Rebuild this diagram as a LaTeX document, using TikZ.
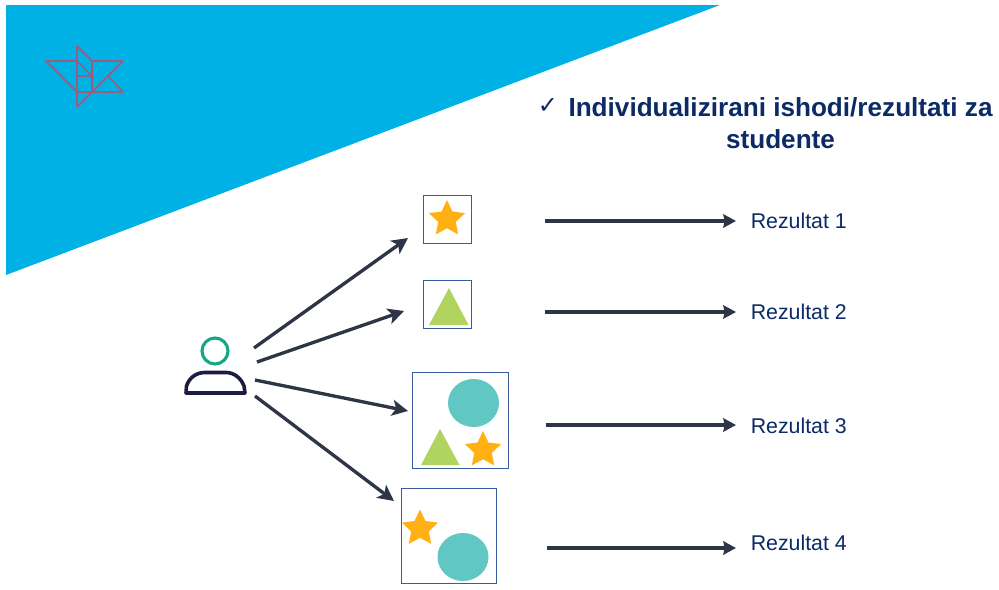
\documentclass[tikz,border=0pt]{standalone}
\usepackage{fontspec}
\setmainfont{Liberation Sans}
\newfontfamily\symfont{DejaVu Sans}
\usetikzlibrary{arrows.meta,shapes.geometric}
\definecolor{skyb}{HTML}{00B1E6}
\definecolor{logoc}{HTML}{9C5C7E}
\definecolor{navyt}{HTML}{0B2A66}
\definecolor{arrowc}{HTML}{2E3547}
\definecolor{boxc}{HTML}{3A5B9F}
\definecolor{starc}{HTML}{FFB114}
\definecolor{tric}{HTML}{B0D45F}
\definecolor{circc}{HTML}{60C7C3}
\definecolor{headc}{HTML}{12A886}
\definecolor{bodyc}{HTML}{1A1C40}
\tikzset{
  x=0.75pt,y=-0.75pt,
  logoline/.style={draw=logoc,line width=1.2pt,line join=round},
  boxnode/.style={draw=boxc,line width=0.85pt,fill=white,inner sep=0pt,minimum width=#1*0.75pt,minimum height=#1*0.75pt,rectangle},
  starnode/.style={star,star points=5,star point ratio=2.05,fill=starc,draw=none,inner sep=0pt,minimum size=38*0.75pt},
  trishape/.style={fill=tric,draw=none},
  circshape/.style={ellipse,fill=circc,draw=none,inner sep=0pt,minimum width=51*0.75pt,minimum height=48*0.75pt},
  flow/.style={draw=arrowc,line width=2.5pt,-{Stealth[length=12pt,width=12pt,inset=3pt]}},
  result/.style={draw=arrowc,line width=2.4pt,-{Stealth[length=9.5pt,width=10pt,inset=1pt]}},
  reslabel/.style={anchor=west,inner sep=0pt,text=navyt,font=\fontsize{16}{19}\selectfont},
  titlelabel/.style={inner sep=0pt,text=navyt,font=\bfseries\fontsize{19.6}{27}\selectfont,align=center},
}
\begin{document}
\begin{tikzpicture}
\useasboundingbox (0,0) rectangle (999,589);
\fill[white] (0,0) rectangle (999,589);
\fill[skyb] (6,5) -- (720,5) -- (6,275) -- cycle;
% logo
\draw[logoline] (46,61) -- (77,61) (46,61) -- (77,92) (77,46) -- (77,107)
  (77,46) -- (92,61) (92,61) -- (92,92) (92,61) -- (123,61) (123,61) -- (77,107)
  (108,76) -- (123,92) (77,92) -- (123,92) (77,76) -- (92,76) (77,61) -- (92,76);
% title
\node[inner sep=0pt,text=navyt,font=\symfont\bfseries\fontsize{18}{20}\selectfont] (check) at (548,105.5) {✓};
\node[titlelabel,anchor=center] (title1) at (780.5,107) {Individualizirani ishodi/rezultati za};
\node[titlelabel,anchor=center] (title2) at (780.5,139) {studente};
% person
\node[circle,draw=headc,line width=2.3pt,inner sep=0pt,minimum size=26*0.75pt] (head) at (215,351) {};
\draw[bodyc,line width=2.7pt,line join=round] (186,393) -- (245,393) -- (244,386)
  .. controls (241,378) and (234,372.5) .. (226,372.5) -- (205,372.5)
  .. controls (196,372.5) and (189,378) .. (186.5,386) -- cycle;
% boxes
\node[boxnode=48] (box1) at (447.3,219.5) {};
\node[boxnode=48] (box2) at (447.3,304.5) {};
\node[boxnode=96] (box3) at (460.3,420.5) {};
\node[boxnode=95] (box4) at (448.8,536) {};
% shapes
\node[starnode] (star1) at (447,219) {};
\fill[trishape] (449,288) -- (468.5,325) -- (429,325) -- cycle;
\node[circshape] (circ3) at (473.5,403) {};
\fill[trishape] (440,429) -- (459.5,465) -- (421,465) -- cycle;
\node[starnode] (star3) at (483,450) {};
\node[starnode] (star4) at (420,528.5) {};
\node[circshape] (circ4) at (463,557) {};
% labels
\node[reslabel] (r1) at (750.5,221) {Rezultat 1};
\node[reslabel] (r2) at (750.5,312) {Rezultat 2};
\node[reslabel] (r3) at (750.5,426) {Rezultat 3};
\node[reslabel] (r4) at (750.5,543) {Rezultat 4};
% connector ends
\coordinate (p1) at (254,348); \coordinate (t1) at (408,238);
\coordinate (p2) at (257,362); \coordinate (t2) at (404,311);
\coordinate (p3) at (255,380); \coordinate (t3) at (408,411);
\coordinate (p4) at (255,396); \coordinate (t4) at (394,501);
\coordinate (s1) at (545,221); \coordinate (e1) at (736,221);
\coordinate (s2) at (545,312); \coordinate (e2) at (736,312);
\coordinate (s3) at (546,425); \coordinate (e3) at (736,425);
\coordinate (s4) at (547,548); \coordinate (e4) at (736,548);
\draw[flow] (p1) -- (t1);
\draw[flow] (p2) -- (t2);
\draw[flow] (p3) -- (t3);
\draw[flow] (p4) -- (t4);
\draw[result] (s1) -- (e1);
\draw[result] (s2) -- (e2);
\draw[result] (s3) -- (e3);
\draw[result] (s4) -- (e4);
\end{tikzpicture}
\end{document}
